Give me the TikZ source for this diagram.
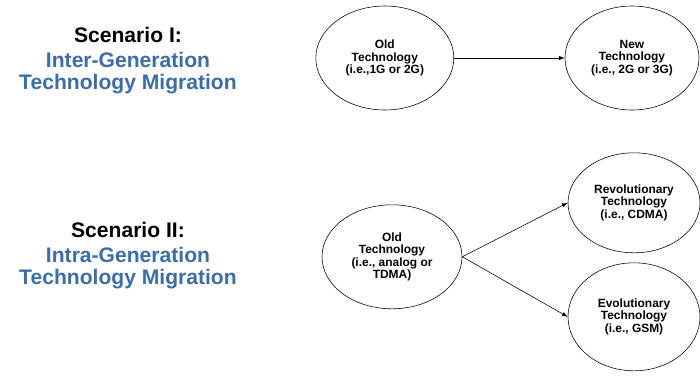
\documentclass[tikz,border=0pt]{standalone}
\usepackage{fontspec}
\setmainfont{Liberation Sans}
\usepackage{xcolor}
\usetikzlibrary{shapes,arrows,positioning}
\definecolor{headblue}{HTML}{3D6DA6}

\begin{document}
\begin{tikzpicture}[node distance=1.2cm]
				\useasboundingbox (0,0) rectangle (17.5,-9.375);
				\tikzset{
					tech/.style={ellipse, draw, thin, inner sep=0pt, align=center, font=\fontsize{8.5}{8.8}\selectfont\bfseries, minimum width=3.45cm, minimum height=2.6cm},
					head/.style={align=center, font=\fontsize{15}{15.5}\selectfont\bfseries},
					mig/.style={head, text=headblue}
				}
				% Scenario I
				\node[head] (scen1) at (3.2,-0.87) {Scenario I:};
				\node[mig, below=0pt of scen1] (mig1) {Inter-Generation\\Technology Migration};
				\node[tech] (old1) at (9.62,-1.45) {Old\\Technology\\(i.e.,1G or 2G)};
				\node[tech, minimum width=3.35cm] (new1) at (15.8,-1.45) {New\\Technology\\(i.e., 2G or 3G)};
				\draw[-latex] (old1) -- (new1);
				
				% Scenario II
				\node[head] (scen2) at (3.2,-5.75) {Scenario II:};
				\node[mig, below=0pt of scen2] (mig2) {Intra-Generation\\Technology Migration};
				\node[tech, minimum width=3.5cm] (old2) at (9.8,-6.42) {Old\\Technology\\(i.e., analog or\\TDMA)};
				\node[tech, minimum width=3.3cm, minimum height=2.5cm] (rev) at (15.85,-5.07) {Revolutionary\\Technology\\(i.e., CDMA)};
				\node[tech, minimum width=3.3cm, minimum height=2.7cm] (evo) at (15.85,-7.92) {Evolutionary\\Technology\\(i.e., GSM)};
				\draw[-latex] (old2.east) -- (rev.west);
				\draw[-latex] (old2.east) -- (evo.west);
			\end{tikzpicture}
\end{document}
